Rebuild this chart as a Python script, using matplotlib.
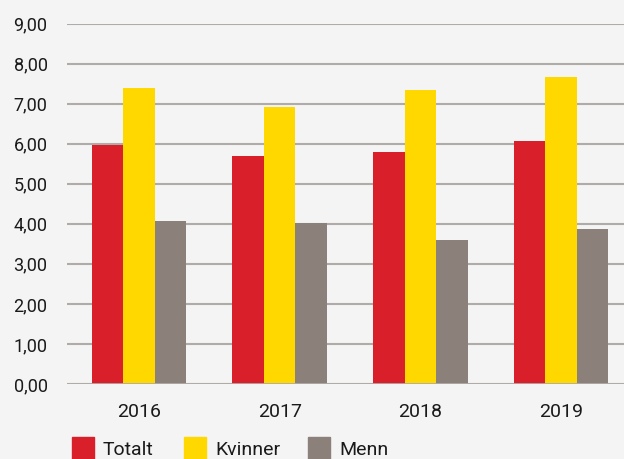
import numpy as np
import matplotlib
matplotlib.use('Agg')
import matplotlib.pyplot as plt
from matplotlib.patches import Rectangle

# Data
years = ['2016', '2017', '2018', '2019']
series = ['Totalt', 'Kvinner', 'Menn']
totalt = [5.97, 5.68, 5.78, 6.07]
kvinner = [7.38, 6.91, 7.34, 7.66]
menn = [4.07, 4.02, 3.60, 3.88]
colors = ['#D91F2A', '#FFD800', '#8B807A']

plt.rcParams['font.family'] = ['Roboto', 'DejaVu Sans']

fig = plt.figure(figsize=(6.24, 4.59), dpi=100, facecolor='#F4F4F4')
ax = fig.add_axes([67 / 624, 75 / 459, 557 / 624, 360.5 / 459])
ax.set_facecolor('#F4F4F4')

x = np.arange(len(years))
w = 0.225
for i, vals in enumerate([totalt, kvinner, menn]):
    ax.bar(x + (i - 1) * w, vals, width=w, color=colors[i], zorder=3)

ax.set_ylim(0, 9)
ax.set_xlim(-0.512, 3.448)
ax.set_yticks(np.arange(0, 10, 1))
ax.set_yticklabels([f'{v:.2f}'.replace('.', ',') for v in np.arange(0, 10, 1)])
ax.set_xticks(x)
ax.set_xticklabels(years)

ax.grid(axis='y', color='#B0ABA7', linewidth=1.5, zorder=0)
for s in ['top', 'right', 'left', 'bottom']:
    ax.spines[s].set_visible(False)
ax.axhline(0, color='#B0ABA7', linewidth=2, zorder=4)
ax.tick_params(axis='y', length=0, pad=14, labelsize=13, labelcolor='#1a1a1a')
ax.tick_params(axis='x', length=0, pad=14, labelsize=14, labelcolor='#1a1a1a')

# Legend
leg_x = [72, 184, 308]
for i, name in enumerate(series):
    fig.add_artist(Rectangle((leg_x[i] / 624, 0), 22 / 624, 22 / 459,
                             transform=fig.transFigure, color=colors[i]))
    fig.text((leg_x[i] + 31) / 624, 9 / 459, name, fontsize=14,
             color='#1a1a1a', va='center', ha='left')

fig.savefig('out.png', dpi=100, facecolor=fig.get_facecolor())
